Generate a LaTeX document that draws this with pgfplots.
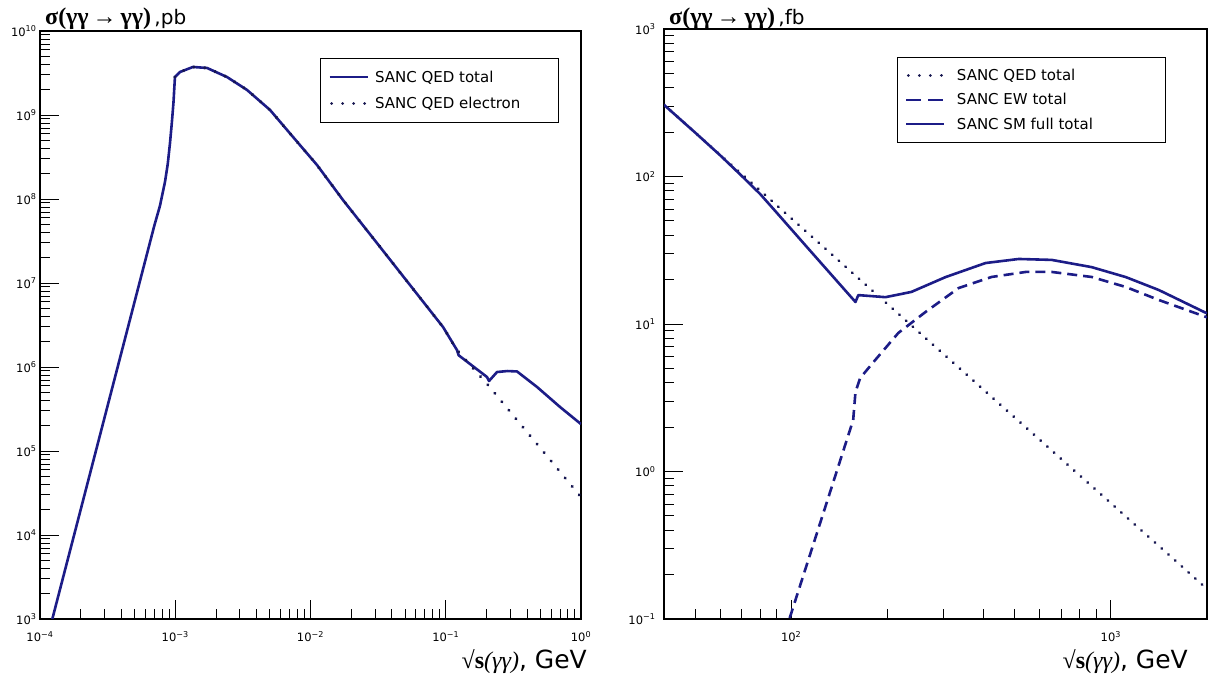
\documentclass[border=0pt]{standalone}
\usepackage{fontspec}
\setmainfont{DejaVu Sans}
\newfontfamily\serif{Liberation Serif}
\usepackage{pgfplots}
\pgfplotsset{compat=1.18}
\definecolor{navy}{RGB}{28,28,135}
\definecolor{navyd}{RGB}{22,22,80}
\pgfplotsset{
  scale only axis,
  axis line style={line width=1.2pt, black},
  tick align=inside, xtick pos=bottom, ytick pos=left,
  major tick length=19pt, minor tick length=10pt,
  every tick/.style={black, line width=0.9pt},
  every minor tick/.style={black, line width=0.9pt},
  tick label style={font=\fontsize{11.5}{12}\selectfont},
  xticklabel style={yshift=-9pt},
  legend cell align=left,
}
\begin{document}
\begin{tikzpicture}[x=1pt,y=1pt]
\path[use as bounding box] (0,0) rectangle (1208,675);
% ---------------- left panel
\begin{loglogaxis}[at={(40pt,56pt)}, anchor=south west,
  width=541pt, height=588pt,
  xmin=1e-4, xmax=1, ymin=1e3, ymax=1e10,
  xtick={1e-4,1e-3,1e-2,1e-1,1},
  xticklabels={10\textsuperscript{−4},10\textsuperscript{−3},10\textsuperscript{−2},10\textsuperscript{−1},10\textsuperscript{0}},
  ytick={1e3,1e4,1e5,1e6,1e7,1e8,1e9,1e10},
  yticklabels={10\textsuperscript{3},10\textsuperscript{4},10\textsuperscript{5},10\textsuperscript{6},10\textsuperscript{7},10\textsuperscript{8},10\textsuperscript{9},10\textsuperscript{10}},
  minor xtick={2e-4,3e-4,4e-4,5e-4,6e-4,7e-4,8e-4,9e-4,2e-3,3e-3,4e-3,5e-3,6e-3,7e-3,8e-3,9e-3,2e-2,3e-2,4e-2,5e-2,6e-2,7e-2,8e-2,9e-2,2e-1,3e-1,4e-1,5e-1,6e-1,7e-1,8e-1,9e-1},
  minor ytick={2e3,3e3,4e3,5e3,6e3,7e3,8e3,9e3,2e4,3e4,4e4,5e4,6e4,7e4,8e4,9e4,2e5,3e5,4e5,5e5,6e5,7e5,8e5,9e5,2e6,3e6,4e6,5e6,6e6,7e6,8e6,9e6,2e7,3e7,4e7,5e7,6e7,7e7,8e7,9e7,2e8,3e8,4e8,5e8,6e8,7e8,8e8,9e8,2e9,3e9,4e9,5e9,6e9,7e9,8e9,9e9},
  legend style={at={(0.5176,0.954)}, anchor=north west, draw=black, line width=0.8pt,
    inner xsep=8pt, inner ysep=11pt, row sep=10.5pt,
    font=\fontsize{15}{16}\selectfont,
    nodes={inner sep=1pt},
    /tikz/every odd column/.style={column sep=5pt}},
]
\addplot[navy, line width=2.6pt, line join=round,
  legend image code/.code={\draw[navy, line width=2.2pt] (0pt,0pt) -- (38pt,0pt);}] coordinates {
(1.19e-4,8e2) (7.0e-4,4.8e7) (7.71e-4,8.3e7) (8.40e-4,1.6e8) (8.8e-4,2.6e8) (9.14e-4,4.6e8)
(9.45e-4,8.3e8) (9.7e-4,1.4e9)
(9.95e-4,2.83e9) (1.084e-3,3.25e9) (1.352e-3,3.73e9) (1.718e-3,3.63e9) (2.415e-3,2.83e9)
(3.39e-3,1.99e9) (5.02e-3,1.148e9) (7.43e-3,5.47e8) (1.117e-2,2.54e8) (1.738e-2,9.73e7)
(3.10e-2,2.99e7) (5.44e-2,9.46e6) (9.55e-2,2.99e6) (0.1211,1.59e6) (0.1245,1.38e6)
(0.2018,7.60e5) (0.2089,6.81e5) (0.2393,8.71e5) (0.285,8.95e5) (0.3365,8.85e5)
(0.4732,5.78e5) (0.6998,3.34e5) (1.0,2.09e5)};
\addlegendentry{\makebox[174pt][l]{\rule[-4pt]{0pt}{16pt}SANC QED total}}
\addplot[navyd, line width=3.4pt, line cap=round, dash pattern=on 0.01pt off 11pt,
  legend image code/.code={\draw[navyd, line width=3pt, line cap=round, dash pattern=on 0.01pt off 11pt] (2pt,0pt) -- (38pt,0pt);}] coordinates {
(9.95e-4,2.83e9) (1.084e-3,3.25e9) (1.352e-3,3.73e9) (1.718e-3,3.63e9) (2.415e-3,2.83e9)
(3.39e-3,1.99e9) (5.02e-3,1.148e9) (7.43e-3,5.47e8) (1.117e-2,2.54e8) (1.738e-2,9.73e7)
(3.10e-2,2.99e7) (5.44e-2,9.46e6) (9.55e-2,2.99e6) (0.1211,1.59e6) (0.2051,6.11e5) (1.0,2.83e4)};
\addlegendentry{\makebox[174pt][l]{\rule[-4pt]{0pt}{16pt}SANC QED electron}}
\end{loglogaxis}
% ---------------- right panel
\begin{loglogaxis}[at={(664pt,56pt)}, anchor=south west,
  width=543pt, height=590pt,
  xmin=40, xmax=2000, ymin=0.1, ymax=1000,
  xtick={100,1000},
  xticklabels={10\textsuperscript{2},10\textsuperscript{3}},
  ytick={0.1,1,10,100,1000},
  yticklabels={10\textsuperscript{−1},10\textsuperscript{0},10\textsuperscript{1},10\textsuperscript{2},10\textsuperscript{3}},
  yticklabel style={xshift=-5pt},
  minor xtick={50,60,70,80,90,200,300,400,500,600,700,800,900},
  minor ytick={0.2,0.3,0.4,0.5,0.6,0.7,0.8,0.9,2,3,4,5,6,7,8,9,20,30,40,50,60,70,80,90,200,300,400,500,600,700,800,900},
  legend style={at={(0.429,0.9525)}, anchor=north west, draw=black, line width=0.8pt,
    inner xsep=8pt, inner ysep=10pt, row sep=9pt,
    font=\fontsize{15}{16}\selectfont,
    nodes={inner sep=1pt},
    /tikz/every odd column/.style={column sep=10pt}},
]
\addplot[navyd, line width=3.2pt, line cap=round, dash pattern=on 0.01pt off 9pt,
  legend image code/.code={\draw[navyd, line width=3pt, line cap=round, dash pattern=on 0.01pt off 11pt] (2pt,0pt) -- (38pt,0pt);}] coordinates {
(40,306) (2000,0.160)};
\addlegendentry{\makebox[199pt][l]{\rule[-4pt]{0pt}{16pt}SANC QED total}}
\addplot[navy, line width=2.6pt, dash pattern=on 10pt off 6pt,
  legend image code/.code={\draw[navy, line width=2pt, dash pattern=on 15pt off 7pt] (0pt,0pt) -- (38pt,0pt);}] coordinates {
(95.5,0.080) (156.3,2.234) (158.9,3.459) (164.4,4.305) (183.2,5.70) (216.3,8.69)
(263.0,12.05) (334.2,17.54) (423.6,20.84) (542.0,22.54) (653.1,22.54) (871.0,20.84)
(1114,17.82) (1413,14.55) (2000,11.1)};
\addlegendentry{\makebox[199pt][l]{\rule[-4pt]{0pt}{16pt}SANC EW total}}
\addplot[navy, line width=2.6pt, line join=round,
  legend image code/.code={\draw[navy, line width=2.2pt] (0pt,0pt) -- (38pt,0pt);}] coordinates {
(40,306) (50,199) (60,139) (70,101) (80,76) (90,57) (112.2,33.1) (141.3,18.8) (158.9,14.1)
(162.2,15.7) (197.2,15.2) (237.7,16.5) (304.1,20.8) (405.5,25.9) (515.2,27.6)
(653.1,27.2) (871.0,24.3) (1114,20.8) (1413,17.0) (2000,11.8)};
\addlegendentry{\makebox[199pt][l]{\rule[-4pt]{0pt}{16pt}SANC SM full total}}
\end{loglogaxis}
% ---------------- titles and labels
\node[anchor=base west, inner sep=0pt] at (45pt,650pt)
  {{\serif\bfseries\fontsize{24}{26}\selectfont σ(γγ\,→\,γγ)}{\fontsize{20}{22}\selectfont\,,pb}};
\node[anchor=base west, inner sep=0pt] at (669pt,650pt)
  {{\serif\bfseries\fontsize{24}{26}\selectfont σ(γγ\,→\,γγ)}{\fontsize{20}{22}\selectfont\,,fb}};
\node[anchor=base east, inner sep=0pt] at (587pt,6pt)
  {{\serif\bfseries\fontsize{24}{26}\selectfont √s}{\serif\itshape\fontsize{24}{26}\selectfont (γγ)}{\fontsize{25}{27}\selectfont , GeV}};
\node[anchor=base east, inner sep=0pt] at (1188pt,6pt)
  {{\serif\bfseries\fontsize{24}{26}\selectfont √s}{\serif\itshape\fontsize{24}{26}\selectfont (γγ)}{\fontsize{25}{27}\selectfont , GeV}};
\end{tikzpicture}
\end{document}
